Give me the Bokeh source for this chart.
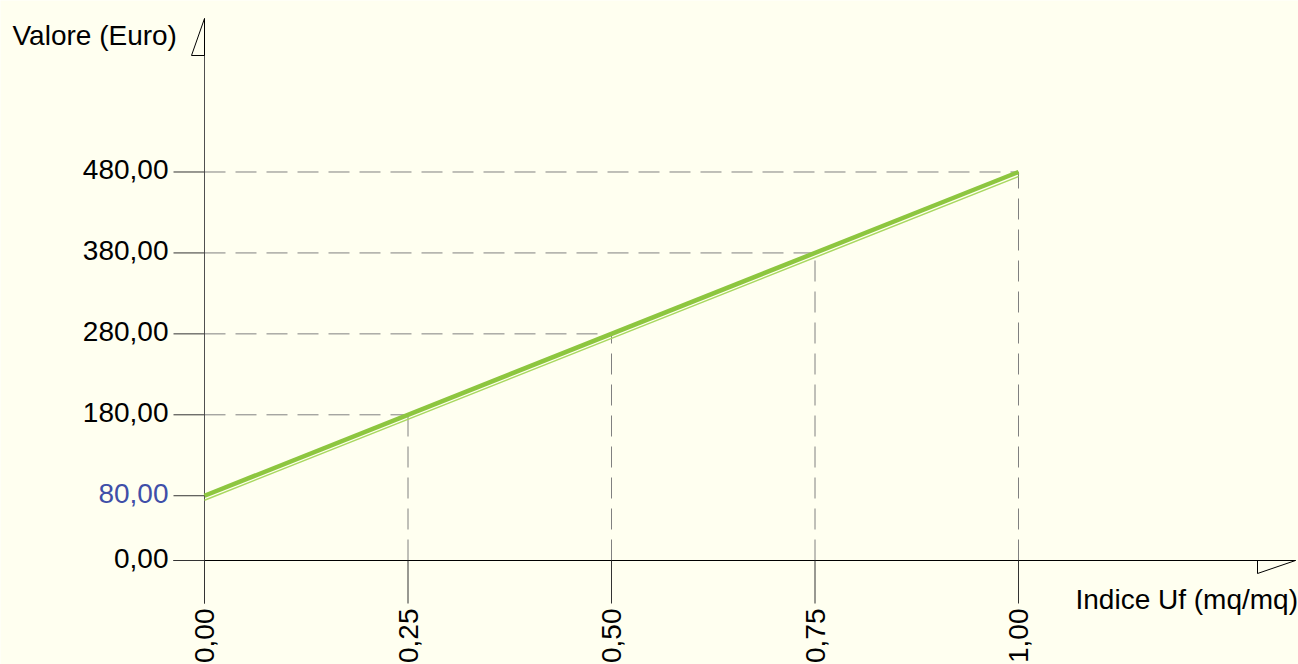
from bokeh.plotting import figure
from bokeh.models import ColumnDataSource, Range1d
from bokeh.core.properties import value
from bokeh.embed import file_html
from bokeh.resources import INLINE

# ---- data ----
x_ticks = [0.0, 0.25, 0.50, 0.75, 1.00]
x_tick_labels = ["0,00", "0,25", "0,50", "0,75", "1,00"]
y_ticks = [0, 80, 180, 280, 380, 480]
y_tick_labels = ["0,00", "80,00", "180,00", "280,00", "380,00", "480,00"]
y_label_colors = ["#000000", "#3F4FA8", "#000000", "#000000", "#000000", "#000000"]
line_x = [0.0, 1.0]
line_y = [80, 480]
guide_x = [0.25, 0.50, 0.75, 1.00]
guide_y = [180, 280, 380, 480]
x_title = "Indice Uf (mq/mq)"
y_title = "Valore (Euro)"

# ---- layout (pixels) ----
W, H = 1298, 664
ORX, ORY = 204, 560          # origin in figure pixels (from top-left)
SX = 814.0                   # px per x unit
SY = 0.8094                  # px per y unit

def dx(px):
    return px / SX

def dy(px):
    return px / SY

FONT = value("Liberation Sans")
FS = "28px"
BG = "#FFFFF0"

p = figure(width=W, height=H, output_backend="svg", toolbar_location=None,
           x_range=Range1d(-ORX / SX, (W - ORX) / SX),
           y_range=Range1d(-(H - ORY) / SY, ORY / SY),
           min_border=0, background_fill_color=BG, border_fill_color=BG,
           outline_line_color=None)
p.axis.visible = False
p.grid.visible = False

# dashed guide lines
p.segment(x0=[0] * len(guide_x), y0=guide_y, x1=guide_x, y1=guide_y,
          line_color="#808080", line_width=1, line_dash="21 10")
p.segment(x0=guide_x, y0=[0] * len(guide_x), x1=guide_x, y1=guide_y,
          line_color="#808080", line_width=1, line_dash="21 10")

# y axis line + arrow
p.segment(x0=[0], y0=[dy(-43)], x1=[0], y1=[dy(542)], line_color="#505050", line_width=1)
p.patch(x=[0, dx(-13), 0], y=[dy(542), dy(505), dy(505)],
        fill_color=None, line_color="#000000", line_width=1)
# x axis line + arrow
p.segment(x0=[dx(-31)], y0=[0], x1=[dx(1091)], y1=[0], line_color="#000000", line_width=1)
p.patch(x=[dx(1053), dx(1091), dx(1053)], y=[0, 0, dy(-13)],
        fill_color=None, line_color="#000000", line_width=1)

# y tick marks
p.segment(x0=[dx(-31)] * len(y_ticks), y0=y_ticks, x1=[0] * len(y_ticks), y1=y_ticks,
          line_color="#333333", line_width=1)
# x tick marks
p.segment(x0=x_ticks, y0=[0] * len(x_ticks), x1=x_ticks, y1=[dy(-43)] * len(x_ticks),
          line_color="#333333", line_width=1)

# green line (with thin light twin just below)
p.line(x=line_x, y=[v - dy(4.5) for v in line_y], line_color="#A9D860", line_width=1.5)
p.line(x=line_x, y=line_y, line_color="#8DC63F", line_width=4.5)

# y tick labels
ysrc = ColumnDataSource(dict(x=[dx(-36)] * len(y_ticks), y=[v + dy(2.5) for v in y_ticks],
                             t=y_tick_labels, c=y_label_colors))
p.text(x="x", y="y", text="t", text_color="c", source=ysrc, text_font=FONT,
       text_font_size=FS, text_align="right", text_baseline="middle")

# x tick labels (rotated)
xsrc = ColumnDataSource(dict(x=x_ticks, y=[dy(-48)] * len(x_ticks), t=x_tick_labels))
p.text(x="x", y="y", text="t", source=xsrc, text_font=FONT, text_font_size=FS,
       angle=1.5708, text_align="right", text_baseline="middle", text_color="#000000")

# axis titles
p.text(x=[dx(-192)], y=[dy(525)], text=[y_title], text_font=FONT, text_font_size=FS,
       text_align="left", text_baseline="alphabetic", text_color="#000000")
p.text(x=[dx(871)], y=[dy(-39)], text=[x_title], text_font=FONT, text_font_size=FS,
       text_align="left", text_baseline="alphabetic", text_color="#000000")

open("out.html", "w").write(file_html(p, INLINE))
